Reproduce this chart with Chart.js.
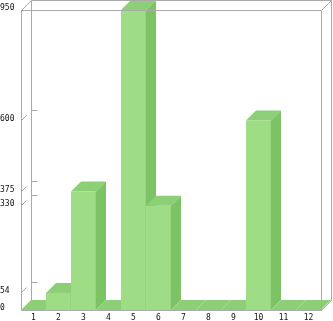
<!DOCTYPE html>
<html><head><meta charset="utf-8">
<script src="https://cdn.jsdelivr.net/npm/chart.js@4"></script>
<style>html,body{margin:0;padding:0;background:#fff;overflow:hidden}canvas{display:block}</style>
</head><body>
<canvas id="c" width="333" height="321" style="width:333px;height:321px"></canvas>
<script>
const categories = ['1','2','3','4','5','6','7','8','9','10','11','12'];
const values = [0, 54, 375, 0, 950, 330, 0, 0, 0, 600, 0, 0];
const yTicks = [0, 54, 330, 375, 600, 950];
const yMin = 0;
const yMax = 950;

const DEPTH = 10;
const FRONT = '#9edd86', TOP = '#8dcf76', SIDE = '#7cc366';
const LINE = '#aaaaaa';
const FONT = {family: 'DejaVu Sans Mono', size: 8};

const bars3d = {
  id: 'bars3d',
  afterDatasetsDraw(chart) {
    const ctx = chart.ctx;
    const a = chart.chartArea;
    const yS = chart.scales.y;
    const L = Math.floor(a.left) + 0.5, R = Math.floor(a.right) + 0.5;
    const T = Math.floor(a.top) + 0.5, B = Math.floor(a.bottom) + 0.5;
    const D = DEPTH;
    ctx.save();
    const meta = chart.getDatasetMeta(0);
    meta.data.forEach(el => {
      const p = el.getProps(['x', 'y', 'base', 'width'], true);
      const x0 = p.x - p.width / 2, x1 = p.x + p.width / 2;
      const yt = Math.min(p.y, p.base), yb = Math.max(p.y, p.base);
      ctx.fillStyle = FRONT;
      ctx.fillRect(x0, yt, x1 - x0, yb - yt);
      ctx.fillStyle = TOP;
      ctx.beginPath();
      ctx.moveTo(x0, yt); ctx.lineTo(x1, yt); ctx.lineTo(x1 + D, yt - D); ctx.lineTo(x0 + D, yt - D);
      ctx.closePath(); ctx.fill();
      ctx.fillStyle = SIDE;
      ctx.beginPath();
      ctx.moveTo(x1, yt); ctx.lineTo(x1 + D, yt - D); ctx.lineTo(x1 + D, yb - D); ctx.lineTo(x1, yb);
      ctx.closePath(); ctx.fill();
      if (yb - yt > 1) {
        ctx.strokeStyle = '#95d67d';
        ctx.lineWidth = 1;
        ctx.beginPath();
        ctx.moveTo(Math.round(x1) - 0.5, yt); ctx.lineTo(Math.round(x1) - 0.5, yb);
        ctx.stroke();
      }
    });
    ctx.strokeStyle = LINE;
    ctx.lineWidth = 1;
    ctx.beginPath();
    ctx.moveTo(L, T); ctx.lineTo(L, B);
    ctx.moveTo(L, B); ctx.lineTo(R, B);
    ctx.moveTo(L, T); ctx.lineTo(R, T);
    ctx.moveTo(R, T); ctx.lineTo(R, B);
    ctx.moveTo(L + D, T - D); ctx.lineTo(R + D, T - D);
    ctx.moveTo(L + D, T - D); ctx.lineTo(L + D, B - D);
    ctx.moveTo(R + D, T - D); ctx.lineTo(R + D, B - D);
    ctx.moveTo(L, T); ctx.lineTo(L + D, T - D);
    ctx.moveTo(R, T); ctx.lineTo(R + D, T - D);
    ctx.moveTo(R, B); ctx.lineTo(R + D, B - D);
    ctx.stroke();
    ctx.beginPath();
    yTicks.forEach(v => {
      if (v === yMin || v === yMax) return;
      const py = Math.floor(yS.getPixelForValue(v)) + 0.5;
      ctx.moveTo(L, py); ctx.lineTo(L + 5, py - 5);
      ctx.moveTo(L + D, py - D); ctx.lineTo(L + D + 6, py - D);
    });
    ctx.stroke();
    ctx.restore();
  }
};

new Chart(document.getElementById('c'), {
  type: 'bar',
  data: {
    labels: categories,
    datasets: [{
      data: values,
      backgroundColor: 'rgba(0,0,0,0)',
      borderWidth: 0,
      barPercentage: 1,
      categoryPercentage: 1
    }]
  },
  options: {
    responsive: false,
    animation: false,
    devicePixelRatio: 1,
    layout: {padding: {top: 10, right: 12, left: 0, bottom: 0}},
    plugins: {legend: {display: false}, tooltip: {enabled: false}},
    scales: {
      x: {
        grid: {display: false, drawTicks: false},
        border: {display: false},
        ticks: {font: FONT, color: '#111', padding: 3, maxRotation: 0, autoSkip: false},
        afterFit(s) { s.height = 11; }
      },
      y: {
        min: yMin, max: yMax,
        grid: {display: false, drawTicks: false},
        border: {display: false},
        afterBuildTicks(s) { s.ticks = yTicks.map(v => ({value: v})); },
        ticks: {font: FONT, color: '#111', padding: 4, autoSkip: false, labelOffset: -2, crossAlign: 'far'},
        afterFit(s) { s.width = 21; }
      }
    }
  },
  plugins: [bars3d]
});
</script>
</body></html>
